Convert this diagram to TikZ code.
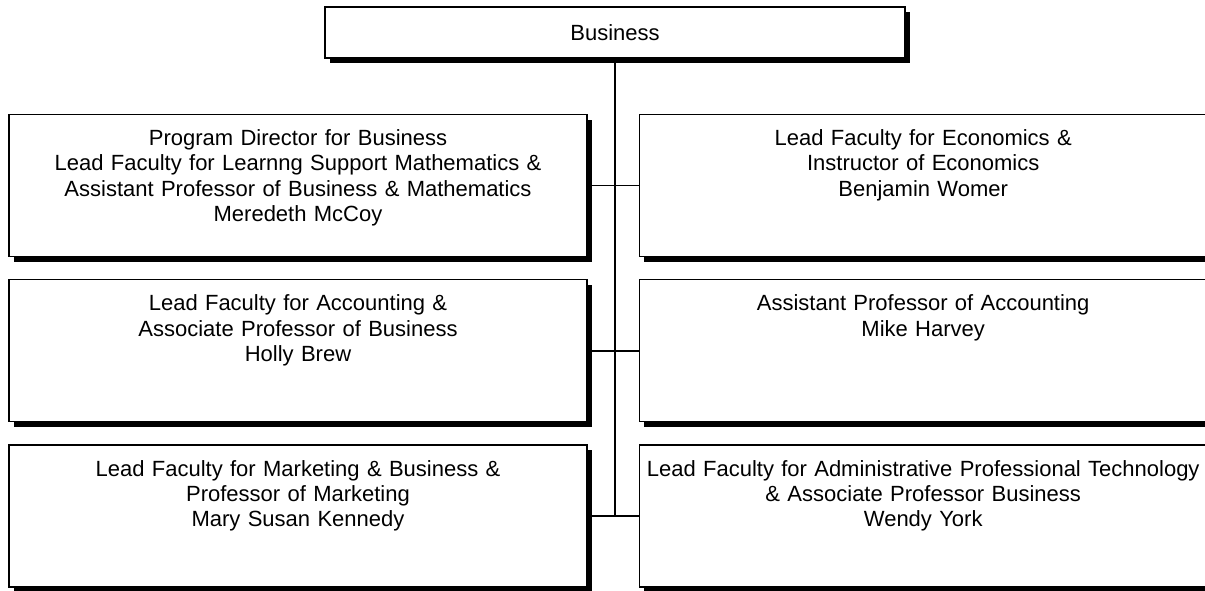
\documentclass[tikz,border=0pt]{standalone}
\usepackage{fontspec}
\setmainfont{Liberation Sans}
\usetikzlibrary{positioning,shadows}
\tikzset{
	orgfont/.style={font=\fontsize{22}{25.3}\selectfont},
	headbox/.style={rectangle, draw=black, line width=1.2pt, fill=white, orgfont,
		minimum width=580pt, minimum height=51pt, inner sep=0pt,
		drop shadow={shadow xshift=5pt, shadow yshift=-5pt, fill=black, opacity=1}},
	staffbox/.style={rectangle, draw=black, line width=1.2pt, fill=white, orgfont,
		align=center, inner xsep=4pt, inner ysep=0pt, text height=31pt, text depth=111pt,
		drop shadow={shadow xshift=5pt, shadow yshift=-5pt, fill=black, opacity=1}},
	orgline/.style={line width=1.5pt}
}
\begin{document}
\begin{tikzpicture}[node distance=22pt]
	\useasboundingbox (0,0) rectangle (1205pt,-590pt);
	\node[headbox] (biz) at (615pt,-32.5pt) {Business};
	% left column
	\node[staffbox, anchor=north, text width=570pt] (lb1) at (298pt,-114pt)
		{Program Director for Business\\Lead Faculty for Learnng Support Mathematics \&\\Assistant Professor of Business \& Mathematics\\Meredeth McCoy};
	\node[staffbox, text width=570pt, below=of lb1] (lb2)
		{Lead Faculty for Accounting \&\\Associate Professor of Business\\Holly Brew};
	\node[staffbox, text width=570pt, below=of lb2] (lb3)
		{Lead Faculty for Marketing \& Business \&\\Professor of Marketing\\Mary Susan Kennedy};
	% right column
	\node[staffbox, text width=560pt, right=51pt of lb1] (rb1)
		{Lead Faculty for Economics \&\\Instructor of Economics\\Benjamin Womer};
	\node[staffbox, text width=560pt, right=51pt of lb2] (rb2)
		{Assistant Professor of Accounting\\Mike Harvey};
	\node[staffbox, text width=560pt, right=51pt of lb3] (rb3)
		{Lead Faculty for Administrative Professional Technology\\\& Associate Professor Business\\Wendy York};
	% connectors
	\draw[orgline] (biz.south) -- (biz.south |- lb3.east);
	\foreach \i in {1,2,3}
		\draw[orgline] (lb\i.east) -- (rb\i.west);
\end{tikzpicture}
\end{document}
